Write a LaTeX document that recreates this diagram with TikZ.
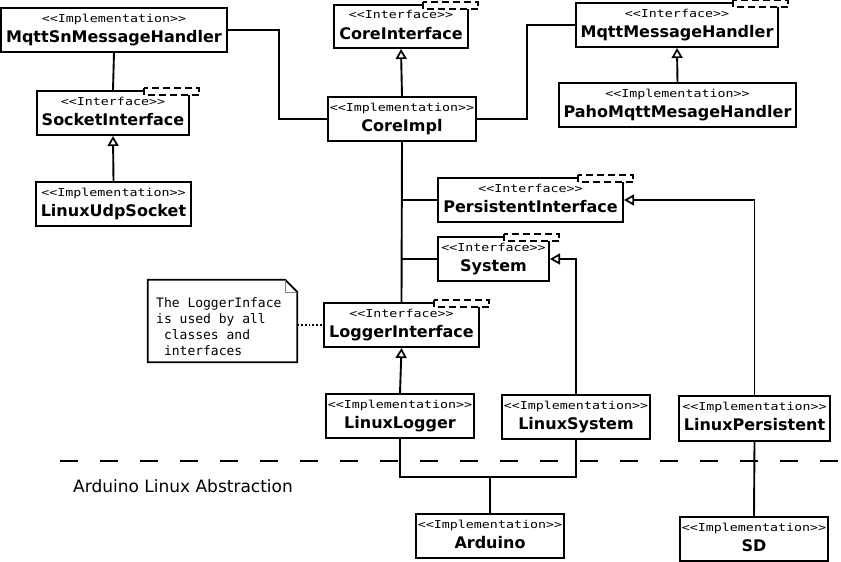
\documentclass[tikz,border=0pt]{standalone}
\usepackage{fontspec}
\usepackage{graphicx}
\usetikzlibrary{arrows.meta,calc,fit}
\newfontfamily\dvs{DejaVu Sans}
\newfontfamily\dvm{DejaVu Sans Mono}
\newcommand\stlabel[1]{\scalebox{1}[0.82]{#1}}
\tikzset{
  cls/.style={draw, line width=2pt, inner sep=0pt, fill=white},
  umltab/.style={draw, fill=white, line width=2pt, dash pattern=on 7pt off 4pt},
  stereo/.style={font=\dvm\fontsize{13.3}{14}\selectfont, inner sep=0pt, anchor=base},
  ctitle/.style={font=\dvs\bfseries\fontsize{16}{18}\selectfont, inner sep=0pt, anchor=base},
  conn/.style={line width=1.9pt},
  real/.style={conn, -{Triangle[open, length=10pt, width=11pt, line width=1.7pt]}},
}
\newcommand\umlclass[7]{%
  \coordinate (#1-a) at (#2,#3);
  \coordinate (#1-b) at (#4,#5);
  \node[cls, fit=(#1-a)(#1-b)] (#1) {};
  \node[stereo] (#1-st) at ($(#1.north)+(0,15)$) {\stlabel{<<#6>>}};
  \node[ctitle] (#1-ti) at ($(#1.north)+(0,35.5)$) {#7};
}
\newcommand\umltabfor[1]{\draw[umltab] ($(#1.north east)+(-46,-2.5)$) rectangle ($(#1.north east)+(9,5)$);}
\begin{document}
\begin{tikzpicture}[x=1pt,y=-1pt]
\useasboundingbox (0,0) rectangle (841,562);

% classes
\umlclass{msn}{1}{8}{227}{52}{Implementation}{MqttSnMessageHandler}
\umlclass{sock}{37}{91}{189}{135}{Interface}{SocketInterface}
\umlclass{udp}{36}{182}{191}{226}{Implementation}{LinuxUdpSocket}
\umlclass{coreif}{334}{5}{468}{48}{Interface}{CoreInterface}
\umlclass{mqtt}{576}{3}{778}{47}{Interface}{MqttMessageHandler}
\umlclass{paho}{559}{83}{796}{127}{Implementation}{PahoMqttMesageHandler}
\umlclass{core}{328}{97}{476}{141}{Implementation}{CoreImpl}
\umlclass{pers}{438}{178}{623}{222}{Interface}{PersistentInterface}
\umlclass{sys}{438}{237}{549}{281}{Interface}{System}
\umlclass{logif}{324}{303}{479}{347}{Interface}{LoggerInterface}
\umlclass{llog}{326}{394}{474}{438}{Implementation}{LinuxLogger}
\umlclass{lsys}{502}{395}{650}{439}{Implementation}{LinuxSystem}
\umlclass{lpers}{679}{396}{830}{441}{Implementation}{LinuxPersistent}
\umlclass{ard}{416}{514}{564}{558}{Implementation}{Arduino}
\umlclass{sd}{680}{517}{828}{561}{Implementation}{SD}

% interface tabs
\umltabfor{sock}
\umltabfor{coreif}
\umltabfor{mqtt}
\umltabfor{pers}
\umltabfor{sys}
\umltabfor{logif}

% note
\coordinate (note-a) at (148,280);
\coordinate (note-b) at (297,362);
\node[fit=(note-a)(note-b), inner sep=0pt] (note) {};
\draw[line width=1.8pt] (note.south west) -- (note.north west) -- ($(note.north east)+(-12,0)$)
  -- ($(note.north east)+(0,12)$) -- (note.south east) -- cycle;
\draw[line width=0.5pt, gray] ($(note.north east)+(-12,0)$) -- ($(note.north east)+(-12,12)$) -- ($(note.north east)+(0,12)$);
\node[anchor=north west, inner sep=0pt, align=left, font=\dvm\fontsize{13}{16}\selectfont] (notetext) at (156,297.5)
  {The LoggerInface\\is used by all\\\hphantom{x}classes and\\\hphantom{x}interfaces};

% connectors
\draw[conn] (msn.east) -- ++(51,0) |- (core.west);
\draw[conn] (msn.south) -- (sock.north);
\draw[real] (udp.north) -- (sock.south);
\draw[real] (core.north) -- (coreif.south);
\draw[conn] (core.east) -- ++(50,0) |- (mqtt.west);
\draw[real] (paho.north) -- (mqtt.south);
\draw[conn] (core.south) -- (logif.north);
\draw[conn] (core.south |- pers.west) -- (pers.west);
\draw[conn] (core.south |- sys.west) -- (sys.west);
\draw[real] (lpers.north) |- (pers.east);
\draw[real] (lsys.north) |- (sys.east);
\draw[real] (llog.north) -- (logif.south);
\draw[line width=1.8pt, dotted] (logif.west -| note.east) -- (logif.west);
\coordinate (join) at (490,477);
\draw[conn] (llog.south) |- (join) -| (lsys.south);
\draw[conn] (join) -- (ard.north);
\draw[conn] (lpers.south) -- (sd.north);

% divider
\coordinate (dl) at (60,461);
\coordinate (dr) at (841,461);
\draw[line width=1.8pt, dash pattern=on 18pt off 22pt] (dl) -- (dr);
\node[anchor=west, inner sep=0pt, font=\dvs\fontsize{17}{20}\selectfont] (abs) at (73,486) {Arduino Linux Abstraction};
\end{tikzpicture}
\end{document}
